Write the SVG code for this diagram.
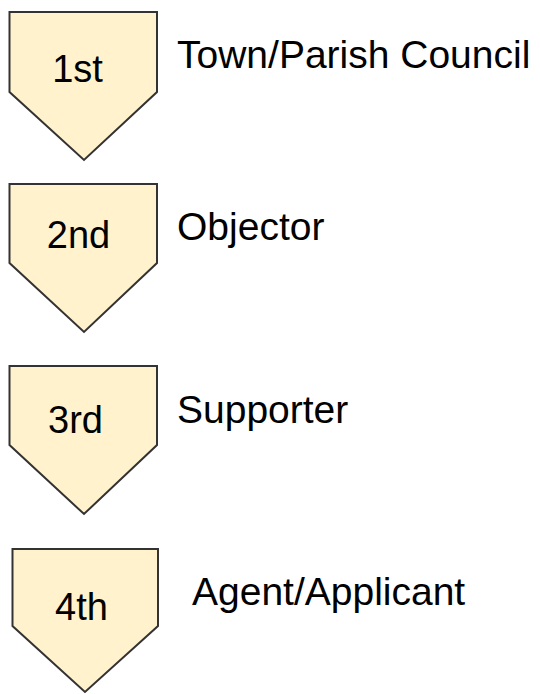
<svg xmlns="http://www.w3.org/2000/svg" width="540" height="694" viewBox="0 0 540 694">
  <style>
    .tag { fill: #fff2cc; stroke: #333333; stroke-width: 2; stroke-linejoin: miter; }
    .num { font-family: "Liberation Sans", Arial, sans-serif; font-size: 38px; fill: #000000; text-anchor: middle; }
    .lbl { font-family: "Liberation Sans", Arial, sans-serif; font-size: 39px; fill: #000000; }
  </style>
  <rect width="540" height="694" fill="#ffffff"/>
  <g id="connectors"/>
  <g id="step1">
    <polygon class="tag" points="9.5,12 157,12 157,92 84,160 9.5,92"/>
    <text class="num" x="77.5" y="82">1st</text>
    <text class="lbl" x="177" y="68">Town/Parish Council</text>
  </g>
  <g id="step2">
    <polygon class="tag" points="9.5,184 157,184 157,263 84,332 9.5,263"/>
    <text class="num" x="78.5" y="248">2nd</text>
    <text class="lbl" x="177" y="240">Objector</text>
  </g>
  <g id="step3">
    <polygon class="tag" points="9.5,366 157,366 157,445 84,514 9.5,445"/>
    <text class="num" x="75.5" y="433">3rd</text>
    <text class="lbl" x="177" y="423">Supporter</text>
  </g>
  <g id="step4">
    <polygon class="tag" points="12.5,549 158,549 158,626 85,692 12.5,626"/>
    <text class="num" x="81.5" y="620">4th</text>
    <text class="lbl" x="192" y="605">Agent/Applicant</text>
  </g>
</svg>
